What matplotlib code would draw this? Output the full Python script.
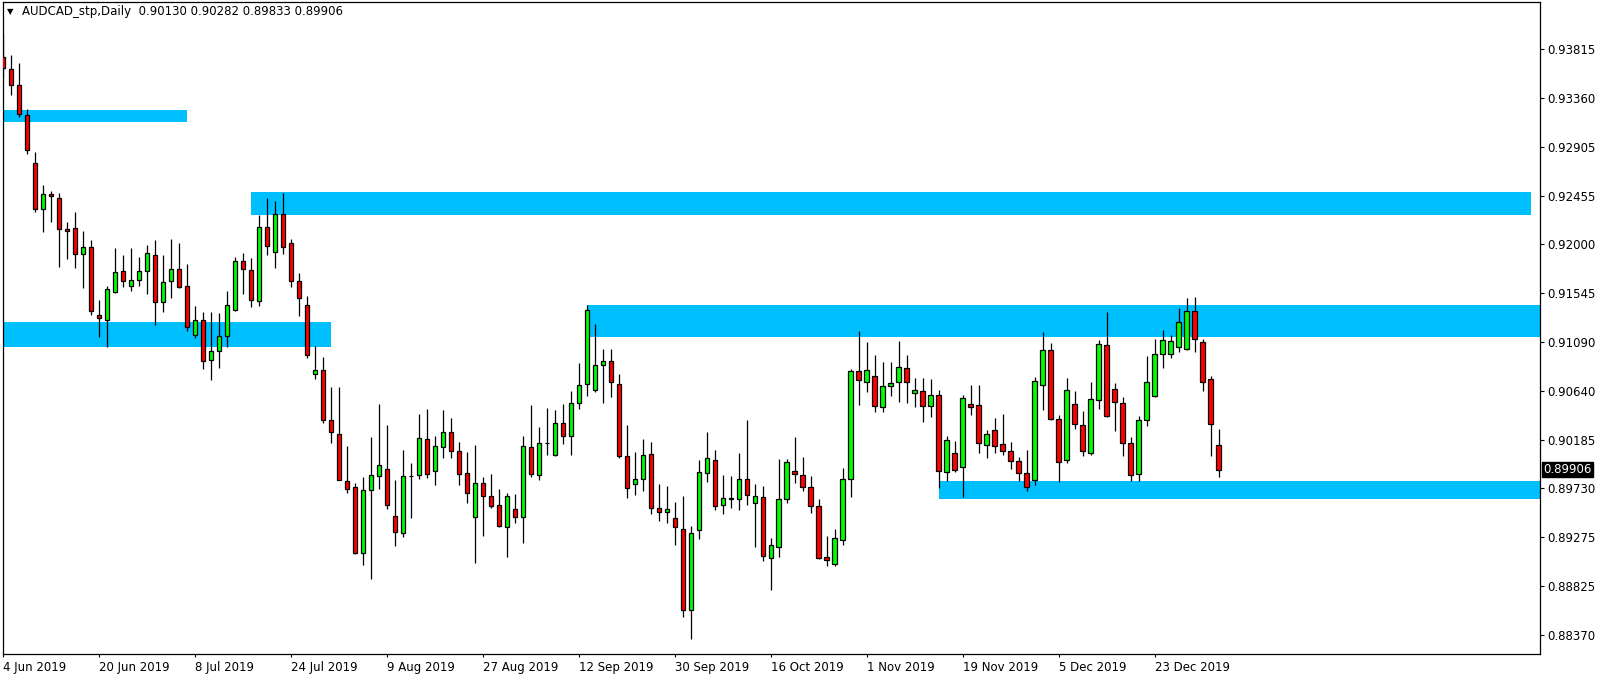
import numpy as np
import matplotlib
matplotlib.use('Agg')
import matplotlib.pyplot as plt
from matplotlib.patches import Rectangle

# daily candles AUDCAD, 4 Jun 2019 .. 2 Jan 2020
opens = [0.93747, 0.93629, 0.93481, 0.93202, 0.92755, 0.92327, 0.92467, 0.92429, 0.92141, 0.92150,
         0.91908, 0.91974, 0.91344, 0.91294, 0.91561, 0.91750, 0.91616, 0.91667, 0.91750, 0.91899,
         0.91462, 0.91657, 0.91769, 0.91611, 0.91155, 0.91294, 0.90922, 0.91006, 0.91146, 0.91388,
         0.91843, 0.91760, 0.91471, 0.92160, 0.91927, 0.92281, 0.92011, 0.91657, 0.91434, 0.90792,
         0.90829, 0.90364, 0.90234, 0.89797, 0.89741, 0.89127, 0.89713, 0.89843, 0.89908, 0.89471,
         0.89313, 0.89843, 0.89853, 0.90187, 0.89890, 0.90113, 0.90253, 0.90076, 0.89871, 0.89462,
         0.89778, 0.89657, 0.89574, 0.89369, 0.89536, 0.89462, 0.90113, 0.89853, 0.90156, 0.90039,
         0.90336, 0.90215, 0.90522, 0.90699, 0.90643, 0.90876, 0.90913, 0.90699, 0.90029, 0.89769,
         0.89815, 0.90048, 0.89546, 0.89514, 0.89453, 0.89350, 0.88597, 0.89341, 0.89871, 0.89992,
         0.89574, 0.89639, 0.89629, 0.89815, 0.89592, 0.89648, 0.89086, 0.89188, 0.89629, 0.89890,
         0.89853, 0.89741, 0.89564, 0.89090, 0.89030, 0.89248, 0.89815, 0.90820, 0.90718, 0.90774,
         0.90491, 0.90681, 0.90718, 0.90848, 0.90615, 0.90634, 0.90500, 0.90597, 0.89881, 0.90057,
         0.89927, 0.90513, 0.90504, 0.90132, 0.90271, 0.90141, 0.90076, 0.89983, 0.89871, 0.89806,
         0.90690, 0.91015, 0.90374, 0.89992, 0.90513, 0.90318, 0.90057, 0.90550, 0.91062, 0.90653,
         0.90522, 0.90150, 0.89862, 0.90364, 0.90588, 0.90978, 0.90978, 0.91043, 0.91025, 0.91378,
         0.91090, 0.90746, 0.90130]
highs = [0.93958, 0.93762, 0.93685, 0.93257, 0.92857, 0.92553, 0.92497, 0.92479, 0.92209, 0.92302,
         0.92125, 0.92041, 0.91483, 0.91614, 0.91964, 0.91902, 0.91964, 0.91883, 0.91995, 0.92041,
         0.91902, 0.92051, 0.92013, 0.91818, 0.91428, 0.91372, 0.91372, 0.91362, 0.91567, 0.91881,
         0.91918, 0.91871, 0.92274, 0.92429, 0.92401, 0.92479, 0.92051, 0.91732, 0.91518, 0.91055,
         0.90950, 0.90671, 0.90671, 0.90125, 0.89778, 0.89834, 0.90206, 0.90516, 0.90318, 0.89806,
         0.90085, 0.89967, 0.90420, 0.90467, 0.90218, 0.90460, 0.90383, 0.90160, 0.90067, 0.90135,
         0.89834, 0.89862, 0.89722, 0.89685, 0.89676, 0.90215, 0.90504, 0.90299, 0.90476, 0.90460,
         0.90513, 0.90634, 0.90895, 0.91434, 0.91257, 0.91025, 0.91025, 0.90792, 0.90318, 0.90067,
         0.90187, 0.90160, 0.89772, 0.89753, 0.89604, 0.89660, 0.89378, 0.89992, 0.90253, 0.90085,
         0.89853, 0.89843, 0.90057, 0.90364, 0.89769, 0.89753, 0.89272, 0.90002, 0.90002, 0.90206,
         0.90020, 0.89843, 0.89629, 0.89285, 0.89350, 0.89918, 0.90839, 0.91192, 0.91090, 0.90969,
         0.90904, 0.90904, 0.91099, 0.90969, 0.90755, 0.90755, 0.90746, 0.90643, 0.90215, 0.90169,
         0.90597, 0.90690, 0.90690, 0.90271, 0.90383, 0.90420, 0.90160, 0.90020, 0.90085, 0.90764,
         0.91183, 0.91081, 0.90411, 0.90755, 0.90634, 0.90448, 0.90718, 0.91108, 0.91369, 0.90708,
         0.90578, 0.90206, 0.90401, 0.90960, 0.91118, 0.91201, 0.91155, 0.91406, 0.91499, 0.91508,
         0.91118, 0.90774, 0.90282]
lows = [0.93546, 0.93390, 0.93188, 0.92839, 0.92305, 0.92119, 0.92212, 0.91793, 0.91868, 0.91784,
        0.91598, 0.91344, 0.91136, 0.91049, 0.91546, 0.91607, 0.91570, 0.91616, 0.91542, 0.91248,
        0.91374, 0.91505, 0.91598, 0.91198, 0.91127, 0.90839, 0.90739, 0.90854, 0.91043, 0.91385,
        0.91536, 0.91415, 0.91425, 0.91899, 0.91778, 0.91908, 0.91607, 0.91332, 0.90941, 0.90746,
        0.90342, 0.90150, 0.89809, 0.89685, 0.89120, 0.89018, 0.88885, 0.89728, 0.89542, 0.89198,
        0.89282, 0.89458, 0.89815, 0.89830, 0.89765, 0.90016, 0.90016, 0.89765, 0.89598, 0.89040,
        0.89291, 0.89551, 0.89369, 0.89095, 0.89412, 0.89226, 0.89840, 0.89806, 0.90039, 0.90030,
        0.90147, 0.90039, 0.90467, 0.90593, 0.90625, 0.90522, 0.90578, 0.90011, 0.89639, 0.89667,
        0.89709, 0.89490, 0.89430, 0.89412, 0.89204, 0.88537, 0.88330, 0.89263, 0.89793, 0.89533,
        0.89495, 0.89551, 0.89533, 0.89579, 0.89188, 0.89058, 0.88788, 0.89095, 0.89592, 0.89784,
        0.89709, 0.89505, 0.89077, 0.89012, 0.89012, 0.89207, 0.89654, 0.90509, 0.90630, 0.90444,
        0.90444, 0.90593, 0.90537, 0.90528, 0.90491, 0.90351, 0.90398, 0.89737, 0.89797, 0.89881,
        0.89654, 0.90411, 0.90063, 0.90011, 0.90057, 0.90039, 0.89908, 0.89797, 0.89709, 0.89765,
        0.90457, 0.90365, 0.89788, 0.89970, 0.90281, 0.90029, 0.90039, 0.90467, 0.90395, 0.90268,
        0.90029, 0.89802, 0.89797, 0.90314, 0.90578, 0.90854, 0.90947, 0.91002, 0.91015, 0.90997,
        0.90634, 0.90035, 0.89833]
closes = [0.93639, 0.93481, 0.93211, 0.92876, 0.92327, 0.92467, 0.92448, 0.92141, 0.92128, 0.91908,
          0.91974, 0.91378, 0.91313, 0.91583, 0.91741, 0.91657, 0.91667, 0.91750, 0.91918, 0.91462,
          0.91648, 0.91769, 0.91607, 0.91229, 0.91294, 0.90913, 0.91006, 0.91146, 0.91434, 0.91843,
          0.91769, 0.91481, 0.92160, 0.91983, 0.92281, 0.91974, 0.91657, 0.91499, 0.90969, 0.90829,
          0.90364, 0.90258, 0.89812, 0.89722, 0.89127, 0.89713, 0.89853, 0.89946, 0.89574, 0.89322,
          0.89843, 0.89843, 0.90197, 0.89862, 0.90122, 0.90253, 0.90076, 0.89862, 0.89685, 0.89778,
          0.89657, 0.89570, 0.89384, 0.89657, 0.89462, 0.90122, 0.89862, 0.90150, 0.90156, 0.90336,
          0.90215, 0.90522, 0.90690, 0.91388, 0.90876, 0.90913, 0.90718, 0.90029, 0.89732, 0.89815,
          0.90039, 0.89546, 0.89514, 0.89536, 0.89369, 0.88597, 0.89313, 0.89881, 0.90011, 0.89564,
          0.89639, 0.89629, 0.89815, 0.89667, 0.89657, 0.89105, 0.89202, 0.89629, 0.89974, 0.89868,
          0.89741, 0.89564, 0.89086, 0.89067, 0.89267, 0.89815, 0.90820, 0.90736, 0.90829, 0.90500,
          0.90681, 0.90708, 0.90857, 0.90718, 0.90643, 0.90500, 0.90597, 0.89890, 0.90178, 0.89899,
          0.90569, 0.90485, 0.90150, 0.90234, 0.90122, 0.90076, 0.89983, 0.89871, 0.89741, 0.90727,
          0.91015, 0.90374, 0.89979, 0.90643, 0.90327, 0.90076, 0.90560, 0.91071, 0.90401, 0.90532,
          0.90150, 0.89853, 0.90364, 0.90718, 0.90978, 0.91108, 0.91099, 0.91276, 0.91378, 0.91118,
          0.90718, 0.90327, 0.89906]

date_labels = ['4 Jun 2019', '20 Jun 2019', '8 Jul 2019', '24 Jul 2019', '9 Aug 2019',
               '27 Aug 2019', '12 Sep 2019', '30 Sep 2019', '16 Oct 2019', '1 Nov 2019',
               '19 Nov 2019', '5 Dec 2019', '23 Dec 2019']
price_ticks = [0.93815, 0.93360, 0.92905, 0.92455, 0.92000, 0.91545, 0.91090,
               0.90640, 0.90185, 0.89730, 0.89275, 0.88825, 0.88370]

# supply/demand boxes: start bar, end bar, low, high
zone_start = [-1, -1, 31, 73, 117]
zone_end = [23, 41, 191, 200, 200]
zone_low = [0.93142, 0.91046, 0.92274, 0.91139, 0.89635]
zone_high = [0.93251, 0.91279, 0.92488, 0.91437, 0.89800]

W, H = 1604, 678
fig = plt.figure(figsize=(W / 100, H / 100), dpi=100)
ax = fig.add_axes([2.5 / W, (H - 654.3) / H, (1540 - 2.5) / W, (654.3 - 1.5) / H])

o = np.array(opens); hi = np.array(highs); lo = np.array(lows); c = np.array(closes)
x = np.arange(len(c))
cols = np.where(c >= o, '#00FF00', '#FF0000')

for i in range(len(zone_start)):
    ax.add_patch(Rectangle((zone_start[i], zone_low[i]), zone_end[i] - zone_start[i],
                           zone_high[i] - zone_low[i], facecolor='#00BFFF',
                           edgecolor='none', zorder=1))

ax.vlines(x, lo, hi, color='black', lw=0.9, zorder=3)
ax.bar(x, np.abs(c - o), bottom=np.minimum(o, c), width=0.62, color=cols,
       edgecolor='black', linewidth=0.9, zorder=4)

ax.set_xlim(-0.0625, 192.13)
ax.set_ylim(0.88187, 0.94260)

ax.yaxis.tick_right()
ax.set_yticks(price_ticks)
ax.set_yticklabels(['%.5f' % p for p in price_ticks])
ax.tick_params(axis='y', direction='out', length=3, width=0.8, pad=2, labelsize=8.5)

ax.set_xticks(np.arange(0, 12 * len(date_labels), 12))
ax.set_xticklabels(date_labels)
for lab in ax.get_xticklabels():
    lab.set_ha('left')
ax.tick_params(axis='x', direction='out', length=2.5, width=0.8, pad=2, labelsize=8.5)

for s in ax.spines.values():
    s.set_linewidth(0.9)
    s.set_color('black')

# last price marker on the price scale
ax.text(1.0022, c[-1], '%.5f' % c[-1], transform=ax.get_yaxis_transform(),
        color='white', fontsize=8.5, va='center', ha='left',
        bbox=dict(boxstyle='square,pad=0.08', facecolor='black', edgecolor='black'))

# header
fig.text(7 / W, 1 - 12 / H, '▼', fontsize=6, va='center', ha='left')
fig.text(22 / W, 1 - 12 / H,
         'AUDCAD_stp,Daily  %.5f %.5f %.5f %.5f' % (o[-1], hi[-1], lo[-1], c[-1]),
         fontsize=8.5, va='center', ha='left')

fig.savefig('out.png', dpi=100, facecolor='white')
